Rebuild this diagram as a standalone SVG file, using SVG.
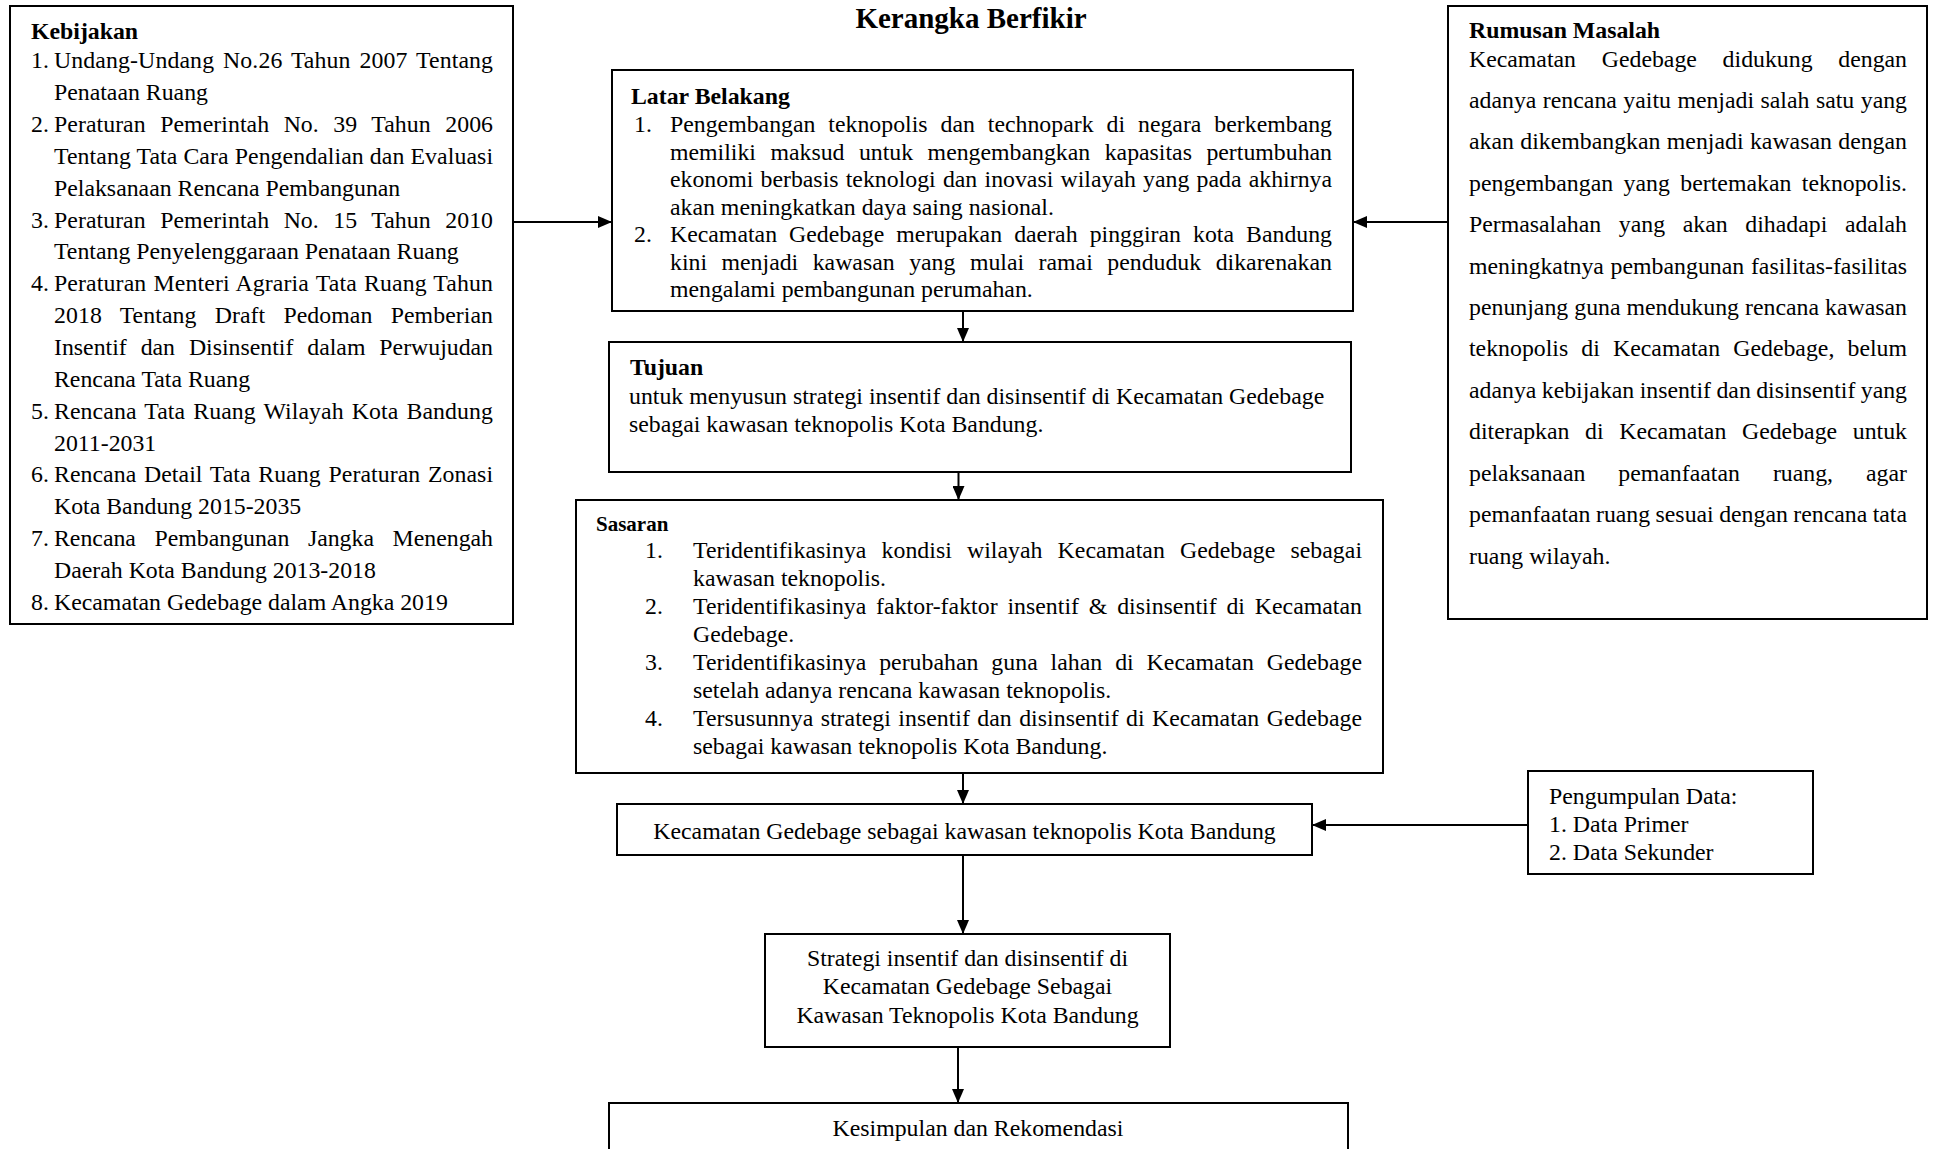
<svg xmlns="http://www.w3.org/2000/svg" width="1934" height="1149" viewBox="0 0 1934 1149">
<defs>
<style>
.box{fill:#fff;stroke:#000;stroke-width:2}
.t{font-family:"Liberation Serif","Times New Roman",serif;font-size:23.8px;fill:#000}
.b{font-weight:bold}
.c{text-anchor:middle}
.ln{stroke:#000;stroke-width:2;fill:none}
</style>
<marker id="ah" markerUnits="userSpaceOnUse" markerWidth="14" markerHeight="12" refX="14" refY="6" orient="auto">
<path d="M0,0 L14,6 L0,12 z" fill="#000"/>
</marker>
</defs>
<rect width="1934" height="1149" fill="#fff"/>

<text class="t b c" x="971" y="28" style="font-size:29px">Kerangka Berfikir</text>

<g id="kebijakan">
<rect class="box" x="10" y="6" width="503" height="618"/>
<text class="t b" x="31" y="39">Kebijakan</text>
<text class="t" x="31" y="68.3">1.</text>
<text class="t" x="54" y="68.3" word-spacing="2.8" textLength="439" lengthAdjust="spacing">Undang-Undang No.26 Tahun 2007 Tentang</text>
<text class="t" x="54" y="100.2">Penataan Ruang</text>
<text class="t" x="31" y="132">2.</text>
<text class="t" x="54" y="132" word-spacing="8.5" textLength="439" lengthAdjust="spacing">Peraturan Pemerintah No. 39 Tahun 2006</text>
<text class="t" x="54" y="163.9" textLength="439" lengthAdjust="spacing">Tentang Tata Cara Pengendalian dan Evaluasi</text>
<text class="t" x="54" y="195.7">Pelaksanaan Rencana Pembangunan</text>
<text class="t" x="31" y="227.6">3.</text>
<text class="t" x="54" y="227.6" word-spacing="8.5" textLength="439" lengthAdjust="spacing">Peraturan Pemerintah No. 15 Tahun 2010</text>
<text class="t" x="54" y="259.4">Tentang Penyelenggaraan Penataan Ruang</text>
<text class="t" x="31" y="291.3">4.</text>
<text class="t" x="54" y="291.3" word-spacing="1" textLength="439" lengthAdjust="spacing">Peraturan Menteri Agraria Tata Ruang Tahun</text>
<text class="t" x="54" y="323.1" word-spacing="12.2" textLength="439" lengthAdjust="spacing">2018 Tentang Draft Pedoman Pemberian</text>
<text class="t" x="54" y="355" word-spacing="8" textLength="439" lengthAdjust="spacing">Insentif dan Disinsentif dalam Perwujudan</text>
<text class="t" x="54" y="386.8">Rencana Tata Ruang</text>
<text class="t" x="31" y="418.7">5.</text>
<text class="t" x="54" y="418.7" word-spacing="2" textLength="439" lengthAdjust="spacing">Rencana Tata Ruang Wilayah Kota Bandung</text>
<text class="t" x="54" y="450.5">2011-2031</text>
<text class="t" x="31" y="482.4">6.</text>
<text class="t" x="54" y="482.4" word-spacing="1.7" textLength="439" lengthAdjust="spacing">Rencana Detail Tata Ruang Peraturan Zonasi</text>
<text class="t" x="54" y="514.2">Kota Bandung 2015-2035</text>
<text class="t" x="31" y="546.1">7.</text>
<text class="t" x="54" y="546.1" word-spacing="12.6" textLength="439" lengthAdjust="spacing">Rencana Pembangunan Jangka Menengah</text>
<text class="t" x="54" y="577.9">Daerah Kota Bandung 2013-2018</text>
<text class="t" x="31" y="609.8">8.</text>
<text class="t" x="54" y="609.8">Kecamatan Gedebage dalam Angka 2019</text>
</g>

<g id="latar-belakang">
<rect class="box" x="612" y="70" width="741" height="241"/>
<text class="t b" x="631" y="103.5">Latar Belakang</text>
<text class="t" x="634" y="132">1.</text>
<text class="t" x="670" y="132" word-spacing="7" textLength="662" lengthAdjust="spacing">Pengembangan teknopolis dan technopark di negara berkembang</text>
<text class="t" x="670" y="159.5" word-spacing="8.5" textLength="662" lengthAdjust="spacing">memiliki maksud untuk mengembangkan kapasitas pertumbuhan</text>
<text class="t" x="670" y="187" word-spacing="1.3" textLength="662" lengthAdjust="spacing">ekonomi berbasis teknologi dan inovasi wilayah yang pada akhirnya</text>
<text class="t" x="670" y="214.5">akan meningkatkan daya saing nasional.</text>
<text class="t" x="634" y="242">2.</text>
<text class="t" x="670" y="242" word-spacing="6.1" textLength="662" lengthAdjust="spacing">Kecamatan Gedebage merupakan daerah pinggiran kota Bandung</text>
<text class="t" x="670" y="269.5" word-spacing="8.5" textLength="662" lengthAdjust="spacing">kini menjadi kawasan yang mulai ramai penduduk dikarenakan</text>
<text class="t" x="670" y="297">mengalami pembangunan perumahan.</text>
</g>

<g id="rumusan-masalah">
<rect class="box" x="1448" y="6" width="479" height="613"/>
<text class="t b" x="1469" y="38">Rumusan Masalah</text>
<text class="t" x="1469" y="66.5" word-spacing="19.8" textLength="438" lengthAdjust="spacing">Kecamatan Gedebage didukung dengan</text>
<text class="t" x="1469" y="107.9" word-spacing="0.5" textLength="438" lengthAdjust="spacing">adanya rencana yaitu menjadi salah satu yang</text>
<text class="t" x="1469" y="149.3" word-spacing="0.4" textLength="438" lengthAdjust="spacing">akan dikembangkan menjadi kawasan dengan</text>
<text class="t" x="1469" y="190.8" word-spacing="4.5" textLength="438" lengthAdjust="spacing">pengembangan yang bertemakan teknopolis.</text>
<text class="t" x="1469" y="232.2" word-spacing="11.7" textLength="438" lengthAdjust="spacing">Permasalahan yang akan dihadapi adalah</text>
<text class="t" x="1469" y="273.6" word-spacing="0.8" textLength="438" lengthAdjust="spacing">meningkatnya pembangunan fasilitas-fasilitas</text>
<text class="t" x="1469" y="315" textLength="438" lengthAdjust="spacing">penunjang guna mendukung rencana kawasan</text>
<text class="t" x="1469" y="356.4" word-spacing="7.2" textLength="438" lengthAdjust="spacing">teknopolis di Kecamatan Gedebage, belum</text>
<text class="t" x="1469" y="397.9" word-spacing="-0.5" textLength="438" lengthAdjust="spacing">adanya kebijakan insentif dan disinsentif yang</text>
<text class="t" x="1469" y="439.3" word-spacing="9.7" textLength="438" lengthAdjust="spacing">diterapkan di Kecamatan Gedebage untuk</text>
<text class="t" x="1469" y="480.7" word-spacing="27" textLength="438" lengthAdjust="spacing">pelaksanaan pemanfaatan ruang, agar</text>
<text class="t" x="1469" y="522.1" word-spacing="-0.5" textLength="438" lengthAdjust="spacing">pemanfaatan ruang sesuai dengan rencana tata</text>
<text class="t" x="1469" y="563.5">ruang wilayah.</text>
</g>

<g id="tujuan">
<rect class="box" x="609" y="342" width="742" height="130"/>
<text class="t b" x="630" y="374.5">Tujuan</text>
<text class="t" x="629" y="403.5">untuk menyusun strategi insentif dan disinsentif di Kecamatan Gedebage</text>
<text class="t" x="629" y="432">sebagai kawasan teknopolis Kota Bandung.</text>
</g>

<g id="sasaran">
<rect class="box" x="576" y="500" width="807" height="273"/>
<text class="t b" x="596" y="531" style="font-size:21px">Sasaran</text>
<text class="t" x="645" y="557.5">1.</text>
<text class="t" x="693" y="557.5" word-spacing="9.1" textLength="669" lengthAdjust="spacing">Teridentifikasinya kondisi wilayah Kecamatan Gedebage sebagai</text>
<text class="t" x="693" y="585.5">kawasan teknopolis.</text>
<text class="t" x="645" y="613.5">2.</text>
<text class="t" x="693" y="613.5" word-spacing="3.8" textLength="669" lengthAdjust="spacing">Teridentifikasinya faktor-faktor insentif &amp; disinsentif di Kecamatan</text>
<text class="t" x="693" y="641.5">Gedebage.</text>
<text class="t" x="645" y="669.5">3.</text>
<text class="t" x="693" y="669.5" word-spacing="6.9" textLength="669" lengthAdjust="spacing">Teridentifikasinya perubahan guna lahan di Kecamatan Gedebage</text>
<text class="t" x="693" y="697.5">setelah adanya rencana kawasan teknopolis.</text>
<text class="t" x="645" y="725.5">4.</text>
<text class="t" x="693" y="725.5" word-spacing="1.4" textLength="669" lengthAdjust="spacing">Tersusunnya strategi insentif dan disinsentif di Kecamatan Gedebage</text>
<text class="t" x="693" y="753.5">sebagai kawasan teknopolis Kota Bandung.</text>
</g>

<g id="kecamatan">
<rect class="box" x="617" y="804" width="695" height="51"/>
<text class="t c" x="964.5" y="839">Kecamatan Gedebage sebagai kawasan teknopolis Kota Bandung</text>
</g>

<g id="pengumpulan-data">
<rect class="box" x="1528" y="771" width="285" height="103"/>
<text class="t" x="1549" y="804">Pengumpulan Data:</text>
<text class="t" x="1549" y="831.5">1. Data Primer</text>
<text class="t" x="1549" y="859.5">2. Data Sekunder</text>
</g>

<g id="strategi">
<rect class="box" x="765" y="934" width="405" height="113"/>
<text class="t c" x="967.5" y="966">Strategi insentif dan disinsentif di</text>
<text class="t c" x="967.5" y="994">Kecamatan Gedebage Sebagai</text>
<text class="t c" x="967.5" y="1022.5">Kawasan Teknopolis Kota Bandung</text>
</g>

<g id="kesimpulan">
<rect class="box" x="609" y="1103" width="739" height="70"/>
<text class="t c" x="978" y="1136">Kesimpulan dan Rekomendasi</text>
</g>

<g id="connectors">
<line class="ln" x1="513" y1="222" x2="612" y2="222" marker-end="url(#ah)"/>
<line class="ln" x1="1448" y1="222" x2="1353" y2="222" marker-end="url(#ah)"/>
<line class="ln" x1="963" y1="311" x2="963" y2="342" marker-end="url(#ah)"/>
<line class="ln" x1="958.5" y1="472" x2="958.5" y2="500" marker-end="url(#ah)"/>
<line class="ln" x1="963" y1="773" x2="963" y2="804" marker-end="url(#ah)"/>
<line class="ln" x1="1528" y1="825" x2="1312" y2="825" marker-end="url(#ah)"/>
<line class="ln" x1="963" y1="855" x2="963" y2="934" marker-end="url(#ah)"/>
<line class="ln" x1="958" y1="1047" x2="958" y2="1103" marker-end="url(#ah)"/>
</g>
</svg>
